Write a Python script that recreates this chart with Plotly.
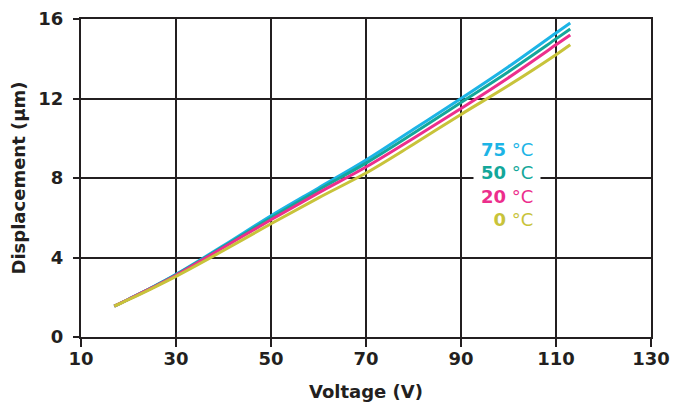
import plotly.graph_objects as go

voltage = [17, 20, 25, 30, 40, 50, 60, 70, 80, 90, 100, 110, 113]
disp_75 = [1.55, 1.9, 2.5, 3.15, 4.6, 6.1, 7.5, 8.9, 10.45, 12.0, 13.6, 15.3, 15.8]
disp_50 = [1.55, 1.9, 2.5, 3.13, 4.55, 6.0, 7.4, 8.75, 10.25, 11.8, 13.35, 15.0, 15.5]
disp_20 = [1.55, 1.9, 2.48, 3.1, 4.5, 5.9, 7.25, 8.55, 10.0, 11.5, 13.05, 14.7, 15.2]
disp_0 = [1.55, 1.88, 2.45, 3.05, 4.35, 5.7, 7.0, 8.25, 9.7, 11.2, 12.65, 14.2, 14.7]

series_names = ["75 °C", "50 °C", "20 °C", "0 °C"]
series_vals = [disp_75, disp_50, disp_20, disp_0]
colors = ["#1CB4E6", "#13A79A", "#EC2E8C", "#C8C33A"]

x_ticks = [10, 30, 50, 70, 90, 110, 130]
y_ticks = [0, 4, 8, 12, 16]

FONT = "DejaVu Sans"
INK = "#231F20"

fig = go.Figure()
for name, vals, col in zip(series_names, series_vals, colors):
    fig.add_trace(go.Scatter(x=voltage, y=vals, mode="lines", name=name,
                             line=dict(color=col, width=3, shape="spline"),
                             showlegend=False))

legend_text = "<br>".join(
    f"<span style='color:{c}'><b>{n.split(' ')[0]}</b> °C</span>"
    for n, c in zip(series_names, colors)
)
fig.add_annotation(x=10 + (541 - 81) / 4.75, y=(337 - 184) / 19.875, xref="x", yref="y",
                   text=legend_text, showarrow=False, align="right",
                   xanchor="right", yanchor="middle",
                   font=dict(family=FONT, size=18, weight="normal"),
                   bgcolor="white", borderpad=7)

axis_common = dict(showgrid=True, gridcolor=INK, gridwidth=2,
                   showline=True, linecolor=INK, linewidth=2, mirror=True,
                   ticks="outside", tickwidth=2, tickcolor=INK, zeroline=False,
                   automargin=False,
                   tickfont=dict(family=FONT, size=18, color=INK, weight="bold"))

# page body has an 8px margin, so the figure is sized/offset to compensate
fig.update_layout(
    width=671, height=394,
    margin=dict(l=73, r=28, t=11, b=65),
    paper_bgcolor="white", plot_bgcolor="white",
    font=dict(family=FONT, size=18, color=INK, weight="bold"),
    xaxis=dict(range=[10, 130], tickvals=x_ticks, ticklen=8, ticklabelstandoff=-4,
               title=dict(text="Voltage (V)", standoff=19,
                          font=dict(family=FONT, size=18, color=INK, weight="bold")),
               **axis_common),
    yaxis=dict(range=[0, 16], tickvals=y_ticks, ticklen=6, ticklabelstandoff=6,
               title=dict(text="Displacement (µm)", standoff=8,
                          font=dict(family=FONT, size=18, color=INK, weight="bold")),
               **axis_common),
)

fig.write_html("out.html")
